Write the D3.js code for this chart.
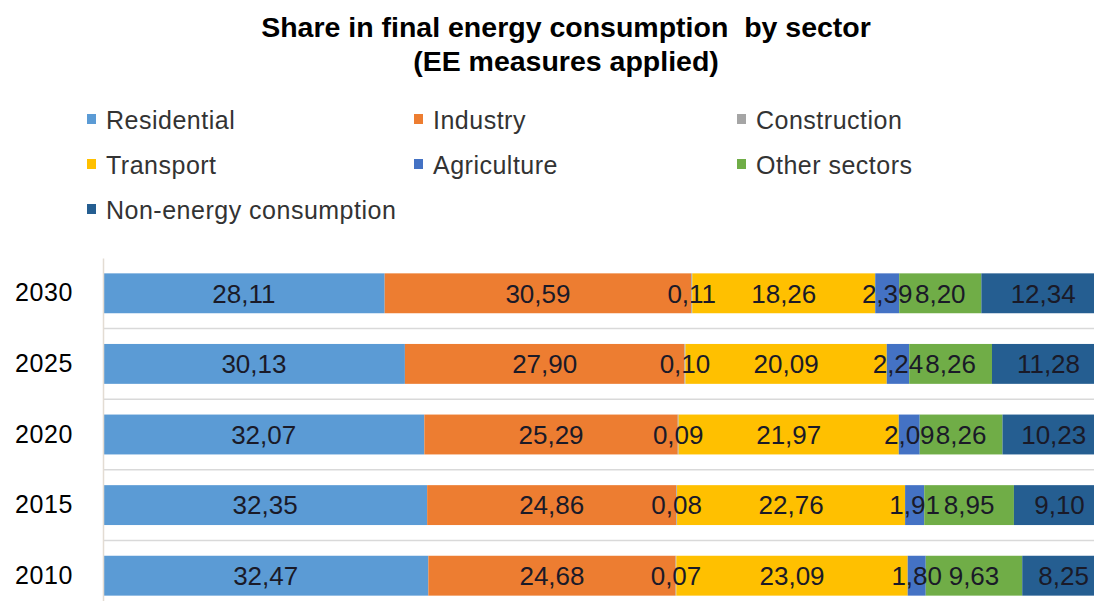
<!DOCTYPE html>
<html>
<head>
<meta charset="utf-8">
<script src="https://cdn.jsdelivr.net/npm/d3@7"></script>
<style>
  html, body { margin: 0; padding: 0; background: #fff; overflow: hidden; }
  svg { display: block; font-family: "Liberation Sans", Arial, sans-serif; }
  .title text { white-space: pre; }
</style>
</head>
<body>
<svg id="chart" width="1094" height="601"></svg>
<script>
// Shares of final energy consumption (%) by year and sector
const years = ["2030", "2025", "2020", "2015", "2010"];
const sectors = ["Residential", "Industry", "Construction", "Transport", "Agriculture", "Other sectors", "Non-energy consumption"];
const sectorColors = ["#5B9BD5", "#ED7D31", "#A5A5A5", "#FFC000", "#4472C4", "#70AD47", "#255E91"];

const residential = [28.11, 30.13, 32.07, 32.35, 32.47];
const industry    = [30.59, 27.90, 25.29, 24.86, 24.68];
const construction = [0.11, 0.10, 0.09, 0.08, 0.07];
const transport   = [18.26, 20.09, 21.97, 22.76, 23.09];
const agriculture = [2.39, 2.24, 2.09, 1.91, 1.80];
const otherSectors = [8.20, 8.26, 8.26, 8.95, 9.63];
const nonEnergy   = [12.34, 11.28, 10.23, 9.10, 8.25];

const seriesValues = [residential, industry, construction, transport, agriculture, otherSectors, nonEnergy];

const rows = years.map((y, i) => {
  const r = { year: y };
  sectors.forEach((s, k) => { r[s] = seriesValues[k][i]; });
  return r;
});

const svg = d3.select("#chart");

const plot = { left: 103, right: 1105, top: 258, bottom: 611 };

const x = d3.scaleLinear().domain([0, 100]).range([plot.left, plot.right]);
const y = d3.scaleBand().domain(years).range([plot.top, plot.bottom])
  .paddingInner(0.435).paddingOuter(0.2175);

const stack = d3.stack().keys(sectors)(rows);
const color = d3.scaleOrdinal().domain(sectors).range(sectorColors);
const fmt = v => d3.format(".2f")(v).replace(".", ",");

// Title
const title = svg.append("g").attr("class", "title").attr("text-anchor", "middle")
  .attr("font-weight", "bold").attr("font-size", 28.5).attr("fill", "#000");
title.append("text").attr("x", 566).attr("y", 37).text("Share in final energy consumption  by sector");
title.append("text").attr("x", 566).attr("y", 71).text("(EE measures applied)");

// Legend
const legendPos = [[87, 129], [414, 129], [737, 129], [87, 174], [414, 174], [737, 174], [87, 219]];
const legend = svg.append("g");
sectors.forEach((s, i) => {
  const [lx, ly] = legendPos[i];
  legend.append("rect").attr("x", lx).attr("y", ly - 15).attr("width", 9).attr("height", 10).attr("fill", color(s));
  legend.append("text").attr("x", lx + 19).attr("y", ly)
    .attr("font-size", 25).attr("letter-spacing", 0.5).attr("fill", "#333").text(s);
});

// Category separators
const step = y.step();
const seps = d3.range(1, years.length).map(i => plot.top + i * step);
svg.append("g").selectAll("line").data(seps).join("line")
  .attr("x1", plot.left).attr("x2", plot.right)
  .attr("y1", d => d).attr("y2", d => d)
  .attr("stroke", "#D9D9D9").attr("stroke-width", 1.5);

// Bars
const layers = svg.append("g").selectAll("g").data(stack).join("g")
  .attr("fill", d => color(d.key));
layers.selectAll("rect").data(d => d).join("rect")
  .attr("x", d => x(d[0]))
  .attr("y", d => y(d.data.year))
  .attr("width", d => x(d[1]) - x(d[0]))
  .attr("height", y.bandwidth());

// Category axis
const yAxis = svg.append("g").attr("transform", `translate(${plot.left},0)`)
  .call(d3.axisLeft(y).tickSize(0).tickPadding(30));
yAxis.select(".domain").attr("stroke", "#E3DCD3").attr("stroke-width", 1.5);
yAxis.selectAll("text").attr("font-size", 25).attr("letter-spacing", 0.6).attr("fill", "#000")
  .attr("font-family", "Liberation Sans, Arial, sans-serif");

// Value labels centred in each segment
const labels = svg.append("g").attr("text-anchor", "middle").attr("font-size", 26).attr("fill", "#1a1a28");
stack.forEach(layer => {
  labels.selectAll(null).data(layer).join("text")
    .attr("x", d => (x(d[0]) + x(d[1])) / 2)
    .attr("y", d => y(d.data.year) + y.bandwidth() / 2)
    .attr("dy", "0.36em")
    .text(d => fmt(d[1] - d[0]));
});
</script>
</body>
</html>
